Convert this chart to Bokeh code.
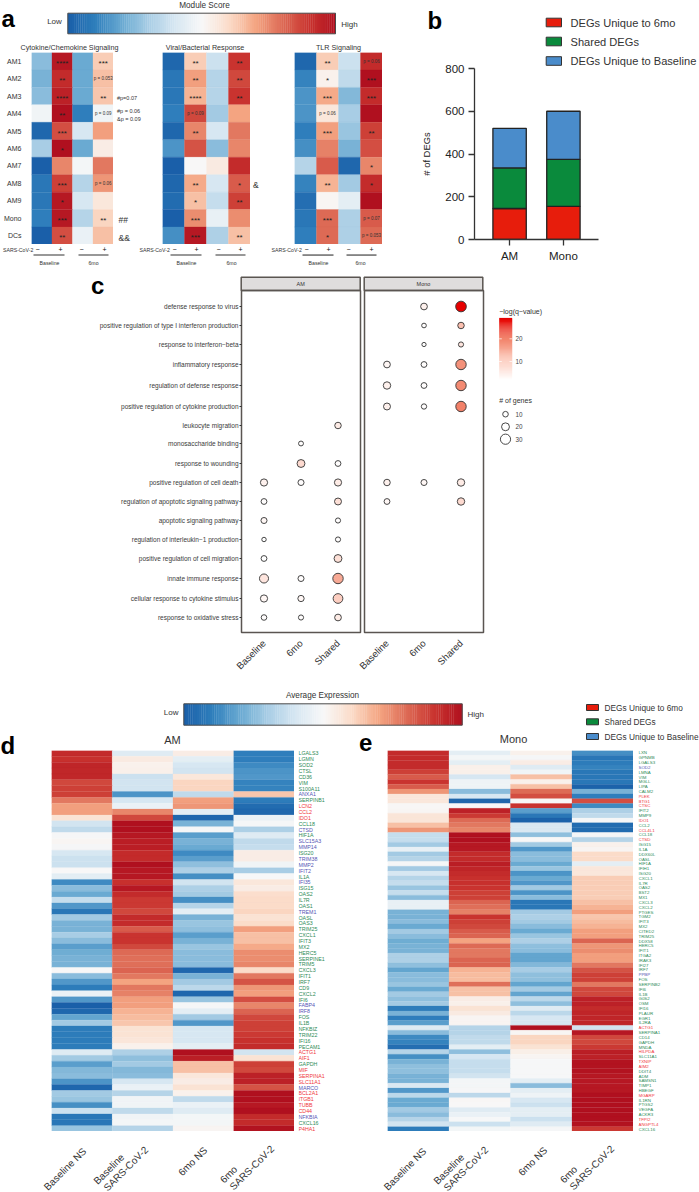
import math
from bokeh.plotting import figure
from bokeh.embed import file_html
from bokeh.resources import INLINE
from bokeh.core.properties import value
from bokeh.models import (ColumnDataSource, FactorRange, Range1d, LinearColorMapper,
                          FixedTicker)
from bokeh.transform import transform

FONT = "Liberation Sans"

# ---------- panel a data ----------
MODULES = ["AM1","AM2","AM3","AM4","AM5","AM6","AM7","AM8","AM9","Mono","DCs"]
STIM = ["B-","B+","6-","6+"]
A1_TITLE, A2_TITLE, A3_TITLE = "Cytokine/Chemokine Signaling", "Viral/Bacterial Response", "TLR Signaling"
A1 = [[-.5,.95,-.6,.25],[-.55,.85,-.6,.3],[-.5,.9,-.6,.28],[-.05,1,-.8,-.05],[-.95,.7,-.2,.42],[-.4,1,-.6,.08],
      [-1,.5,-.03,.55],[-.85,.75,-.35,.45],[-.85,.95,-.2,.12],[-.8,.95,-.35,.22],[-1,.7,-.08,.3]]
A1_TXT = [["","****","","***"],["","**","","p = 0.053"],["","****","","**"],["","**","","p = 0.09"],["","***","",""],
          ["","*","",""],["","","",""],["","***","","p = 0.06"],["","*","",""],["","***","","**"],["","**","",""]]
A2 = [[-.95,.25,-.25,.8],[-.85,.42,-.35,.72],[-.85,.35,-.35,.8],[-.8,.72,-.42,.4],[-.95,.5,-.2,.55],[-.7,.68,-.5,.5],
      [-1,0,.1,.85],[-.95,.38,-.2,.65],[-.92,.3,-.28,.75],[-1,.48,-.1,.48],[-.72,.95,-.38,.3]]
A2_TXT = [["","**","","**"],["","**","","**"],["","****","","**"],["","p = 0.09","",""],["","**","",""],
          ["","","",""],["","","",""],["","**","","*"],["","*","","**"],["","***","",""],["","***","","**"]]
A3 = [[-.95,.25,-.25,.85],[-.78,.05,-.3,1],[-.7,.38,-.52,.85],[-.7,.12,-.4,1],[-.8,.42,-.45,.75],[-.72,.52,-.55,.7],
      [-.35,.65,-.95,.5],[-.78,.35,-.42,.85],[-.9,.02,-.12,1],[-.85,.6,-.38,.65],[-.8,.6,-.38,.6]]
A3_TXT = [["","**","","p = 0.06"],["","*","","***"],["","***","","***"],["","p = 0.06","",""],["","***","","**"],
          ["","","",""],["","","","*"],["","**","","*"],["","","",""],["","***","","p = 0.07"],["","*","","p = 0.053"]]

# ---------- panel b data ----------
B_CATS = ["AM","Mono"]
B_SERIES = ["DEGs Unique to 6mo","Shared DEGs","DEGs Unique to Baseline"]
B_6MO = [145,155]
B_SHARED = [190,220]
B_BASE = [185,225]
B_COLORS = ["#e71d0c","#0a8a3c","#4a8ccb"]

# ---------- panel c data ----------
GO_TERMS = ["defense response to virus","positive regulation of type I interferon production","response to interferon\u2212beta",
 "inflammatory response","regulation of defense response","positive regulation of cytokine production","leukocyte migration",
 "monosaccharide binding","response to wounding","positive regulation of cell death","regulation of apoptotic signaling pathway",
 "apoptotic signaling pathway","regulation of interleukin\u22121 production","positive regulation of cell migration",
 "innate immune response","cellular response to cytokine stimulus","response to oxidative stress"]
GO_COLS = ["Baseline","6mo","Shared"]
# term index, column, genes, -log(q)
GO_AM = [(6,"Shared",14,5),(7,"6mo",7,2),(8,"6mo",20,8),(8,"Shared",11,2),(9,"Baseline",17,4),(9,"6mo",12,2),(9,"Shared",17,5),
 (10,"Baseline",11,2),(10,"Shared",16,7),(11,"Baseline",12,3),(11,"Shared",8,2),(12,"Baseline",5,1.6),(12,"Shared",8,2),
 (13,"Baseline",11,1.6),(13,"Shared",20,7),(14,"Baseline",25,6),(14,"6mo",12,2),(14,"Shared",31,15),(15,"Baseline",17,3),
 (15,"6mo",13,3),(15,"Shared",28,10),(16,"Baseline",10,2),(16,"6mo",8,2),(16,"Shared",15,5)]
GO_MONO = [(0,"6mo",15,4),(0,"Shared",32,29),(1,"6mo",6,2),(1,"Shared",14,12),(2,"6mo",4,1.6),(2,"Shared",8,6),
 (3,"Baseline",15,3),(3,"6mo",11,2),(3,"Shared",31,18),(4,"Baseline",18,4),(4,"6mo",11,2),(4,"Shared",31,19),
 (5,"Baseline",16,4),(5,"6mo",9,2),(5,"Shared",31,20),(9,"Baseline",14,4),(9,"6mo",12,3),(9,"Shared",18,5),
 (10,"Baseline",11,3),(10,"Shared",18,8)]
GENE_LEGEND = [10,20,30]
Q_TICKS = [10,20]

# ---------- panels d, e data ----------
HEAT_COLS = ["Baseline NS","Baseline SARS-CoV-2","6mo NS","6mo SARS-CoV-2"]
D_GENES = ["LGALS3","LGMN","SOD2","CTSL","CD36","VIM","S100A11","ANXA1","SERPINB1","LCN2","CCL2","IDO1","CCL18","CTSD","HIF1A",
 "SLC15A3","MMP14","ISG20","TRIM38","MMP2","IFIT2","IL1A","IFI35","ISG15","OAS2","IL7R","OAS1","TREM1","OASL","OAS3","TRIM25",
 "CXCL1","IFIT3","MX2","HERC5","SERPINE1","TRIM5","CXCL3","IFIT1","IRF7","CD9","CXCL2","IFI6","FABP4","IRF8","FOS","IL1B",
 "NFKBIZ","TRIM22","IFI16","PECAM1","ACTG1","AIF1","GAPDH","MIF","SERPINA1","SLC11A1","MARCO","BCL2A1","ITGB1","TUBB","CD44",
 "NFKBIA","CXCL16","P4HA1"]
D_BLUE = {"ANXA1","CTSD","SLC15A3","MMP14","TRIM38","MMP2","IFIT2","IFI35","TREM1","FABP4","IRF8","MARCO","NFKBIA"}
D_RED = {"LCN2","CCL2","IDO1","ACTG1","AIF1","MIF","SERPINA1","SLC11A1","BCL2A1","ITGB1","TUBB","CD44","P4HA1"}
D_VALUES = [[.85,-.15,.08,-.8],[.82,.1,-.12,-.8],[.88,.05,-.2,-.75],[.87,.06,-.22,-.7],[.87,-.25,.12,-.68],[.72,-.22,.22,-.78],
 [.75,-.22,.22,-.78],[.75,-.7,-.3,.28],[.55,-.2,.42,-.82],[.42,-.08,.45,-.92],[.42,.5,-.12,-.95],[.15,.72,-.95,-.08],
 [-.22,1,-.55,-.02],[-.3,1,-.02,-.38],[-.02,.95,-.65,-.15],[.02,.92,-.55,-.3],[-.02,.92,-.6,-.28],[-.2,.85,-.75,.08],
 [-.25,.85,-.65,.08],[-.25,1,-.48,-.05],[0,.95,-.38,-.4],[-.12,.95,-.72,-.01],[-.75,.82,-.22,.12],[-.5,.95,-.38,.08],
 [-.6,.85,-.42,.18],[-.28,.78,-.72,.2],[-.68,.78,-.35,.2],[-.85,.72,-.12,.22],[-.42,.85,-.55,.15],[-.55,.85,-.45,.2],
 [-.55,.65,-.48,.42],[-.4,.8,-.65,.3],[-.5,.8,-.55,.3],[-.65,.72,-.45,.38],[-.58,.6,-.5,.48],[-.55,.58,-.5,.48],
 [-.55,.58,-.5,.5],[0,.62,-.95,.2],[-.5,.55,-.55,.55],[-.68,.4,-.42,.68],[-.82,.55,-.32,.45],[-.08,.52,-.95,.42],
 [-.68,.42,-.45,.7],[-1,.42,-.02,.5],[-.95,.35,-.12,.62],[-.62,.32,-.42,.72],[-.42,.28,-.68,.75],[-.82,.15,-.2,.75],
 [-.82,.15,-.2,.78],[-.82,.13,-.2,.82],[-.82,.05,-.12,.85],[-.15,-.38,1,-.22],[-.42,-.48,.92,.15],[-.65,-.42,.3,.75],
 [-.52,-.52,.3,.72],[-.5,-.5,.12,.9],[-.7,-.2,.08,.9],[-.95,-.08,.15,.68],[-.42,-.35,.05,1],[-.45,-.05,-.3,1],
 [-.72,-.05,-.08,.95],[-.25,-.3,-.15,1],[-.85,-.05,-.03,.85],[-.85,-.03,-.03,.85],[-.45,-.35,.03,.98]]
E_GENES = ["LXN","GPNMB","LGALS3","SOD2","LMNA","VIM","MGLL","LIPA","CALM2","PLEK","BTG1","CTSC","IFIT2","MMP9","IDO1","CCL2",
 "CCL4L1","CCL18","CTSD","ISG15","IL1A","DDX60L","OASL","HIF1A","IFIH1","ISG20","CXCL1","IL7R","OAS2","BST2","MX1","CXCL3",
 "CXCL2","PTGES","TGM2","IFIT3","MX2","CITED2","TRIM25","DDX58","HERC5","IFIT1","ITGA2","IRAK3","IFI27","IRF7","PPBP","FOS",
 "SERPINB2","IFI6","IL1B","G0S2","OSM","IFI16","PLAUR","EGR1","IL2RA","ACTG1","SERPINA1","CD14","GAPDH","MNDA","HILPDA",
 "SLC11A1","TXNIP","AIM2","DDIT4","ADM","SAMSN1","TIMP1","HBEGF","MGARP","IL1RN","PTGS2","VEGFA","ACKR3","TFPI2","ANGPTL4","CXCL16"]
E_BLUE = {"SOD2","PPBP"}
E_RED = {"PLEK","BTG1","CTSC","IDO1","CCL4L1","CTSD","ACTG1","HILPDA","TXNIP","AIM2","MGARP","TFPI2","ANGPTL4"}
E_VALUES = [[.85,-.12,.05,-.72],[.85,-.03,-.02,-.85],[.85,-.12,.08,-.82],[.85,.06,-.15,-.78],[.75,.06,-.05,-.85],[.65,-.2,.3,-.85],
 [.8,-.06,.06,-.85],[.65,-.06,.3,-.98],[.45,-.5,.6,-.55],[.12,-.2,.7,-.8],[.12,-.95,0,.7],[.01,-.01,.8,-.75],[.02,.9,-.65,-.38],
 [.14,.78,-.85,-.3],[.14,.6,-.98,-.02],[.3,.55,-.18,-.92],[.45,.5,-.18,-.92],[-.28,1,-.48,-.02],[-.28,1,0,-.35],[-.42,.95,-.42,.05],
 [-.1,.95,-.68,.03],[-.42,.85,-.5,.2],[-.35,.85,-.5,.2],[-.02,.92,-.6,-.12],[-.42,.88,-.45,.12],[-.2,.85,-.7,.12],[-.35,.82,-.6,.25],
 [-.28,.82,-.68,.25],[-.45,.8,-.42,.25],[-.28,.75,-.7,.25],[-.5,.75,-.5,.25],[-.1,.62,-.85,.3],[-.1,.58,-.85,.35],[-.55,.52,-.42,.42],
 [-.55,.8,-.38,.28],[-.5,.75,-.42,.32],[-.6,.72,-.5,.35],[-.42,.65,-.6,.42],[-.5,.62,-.45,.42],[-.58,.4,-.38,.62],[-.55,.6,-.48,.45],
 [-.55,.55,-.5,.48],[-.38,.55,-.62,.42],[-.38,.62,-.62,.42],[-.48,.62,-.52,.55],[-.62,.35,-.4,.68],[-.5,.32,-.48,.75],[-.5,.32,-.48,.75],
 [-.45,.58,-.62,.55],[-.6,.3,-.42,.72],[-.42,.3,-.62,.72],[-.48,.08,-.32,.9],[-.42,.06,-.48,.9],[-.82,.15,-.15,.85],[-.55,.1,-.32,.88],
 [-.8,.03,-.2,.88],[-.65,.03,-.2,.88],[-.15,-.35,1,-.22],[-.5,-.35,.02,.95],[-.75,-.3,.22,.72],[-.78,-.3,.22,.72],[-.9,-.12,.15,.78],
 [-.35,-.48,.07,.92],[-.72,-.2,.03,.9],[-.55,-.28,-.01,.98],[-.48,-.28,-.01,.98],[-.48,-.28,-.01,.98],[-.55,-.22,-.01,.95],
 [-.55,-.03,-.12,.95],[-.18,-.03,-.5,.95],[-.68,-.02,-.12,.95],[-.32,-.32,-.06,1],[-.6,.01,-.2,1],[-.6,0,-.25,1],[-.42,-.15,-.12,1],
 [-.5,-.08,-.12,1],[-.35,-.01,-.25,1],[-.22,-.25,-.15,.98],[-.82,-.03,-.02,.78]]

# ---------- colours ----------
def hex2rgb(h): return [int(h[i:i+2],16) for i in (1,3,5)]
def ramp(stops, n=256):
    out=[]
    for i in range(n):
        t=i/(n-1)*(len(stops)-1); k=min(int(t),len(stops)-2); f=t-k
        a,b=hex2rgb(stops[k]),hex2rgb(stops[k+1])
        out.append("#%02x%02x%02x"%tuple(round(a[j]+(b[j]-a[j])*f) for j in range(3)))
    return out
HEAT = ramp(["#1a5fa9","#2f7fbc","#6aaad2","#a9cee5","#d7e7f2","#f8f8f8","#fbdcc9","#f4a582","#dd6a55","#c9342f","#b0101f"])
QPAL = ramp(["#ffffff","#fccabb","#f2836a","#e60000"])
heat_map = LinearColorMapper(palette=HEAT, low=-1, high=1)
q_map = LinearColorMapper(palette=QPAL, low=1.6, high=29)
LABEL_GREEN, LABEL_BLUE, LABEL_RED = "#2e8b57", "#5555b5", "#f0383c"

figs = []
def base_fig(left, top, w, h, **kw):
    opts = dict(width=w, height=h, output_backend="svg", toolbar_location=None, tools="",
                min_border=0, x_axis_location=None, y_axis_location=None,
                background_fill_alpha=0, border_fill_alpha=0, outline_line_color=None,
                styles={"position":"absolute","left":f"{left}px","top":f"{top}px"})
    opts.update(kw)
    p = figure(**opts)
    p.grid.visible = False
    figs.append(p)
    return p

# ---------- canvas with page-level labels ----------
canvas = base_fig(0, 0, 699, 1192, x_range=Range1d(0,699), y_range=Range1d(1192,0))
def txt(x, y, s, size, align="left", base="middle", color="#333333", angle=0, style="normal"):
    canvas.text([x],[y],[s], text_font=value(FONT), text_font_size=f"{size}px", text_align=align,
                text_baseline=base, text_color=color, angle=angle, text_font_style=style)
def cbar(x0,x1,y0,y1,pal):
    n=128
    canvas.quad(left=[x0+(x1-x0)*i/n for i in range(n)], right=[x0+(x1-x0)*(i+1)/n+.3 for i in range(n)],
                top=[y0]*n, bottom=[y1]*n, fill_color=[pal[i*2] for i in range(n)], line_color=None)
    canvas.quad(left=[x0],right=[x1],top=[y0],bottom=[y1],fill_color=None,line_color="#4a4a4a",line_width=1)

for s,x,y in [("a",1,18.3),("b",427,20),("c",90.5,285),("d",0,745),("e",358.5,742)]:
    txt(x,y,s,24,base="alphabetic",color="#000000",style="bold")

# colour bar a
cbar(67.3,335,12.7,33.3,HEAT)
txt(204,5,"Module Score",8.2,"center")
txt(54,21,"Low",8,"center"); txt(349,24,"High",8,"center")
for t,x in [(A1_TITLE,69),(A2_TITLE,204.5),(A3_TITLE,338)]:
    txt(x,46.5,t,7.2,"center")
for s,y,sz in [("#p=0.07",97,5.5),("#p = 0.06",110.5,5.5),("&p = 0.09",118,5.5)]:
    txt(116.5,y,s,sz)
txt(118,219,"##",8.5); txt(118,237,"&&",8.5); txt(252.5,184,"&",8.5)
for sx,xs,un,bl,sm in [(2.5,(37,60,81,104),((33,64),(78,108)),49,93),
                       (139,(174,196,218,240),((170,201),(215,245)),186,231),
                       (271,(306,328,348,371),((302,333),(346,376)),318,360)]:
    txt(sx,249,"SARS-CoV-2",5.2)
    for i,x in enumerate(xs):
        txt(x,248.5,"\u2212" if i%2==0 else "+",7,"center",color="#111111")
    for a,b in un:
        canvas.segment([a],[254.5],[b],[254.5],line_color="#333333",line_width=1.2)
    txt(bl,262,"Baseline",5.2,"center"); txt(sm,262,"6mo",5.2,"center")

# legends b and d/e
for i,(s,c) in enumerate(zip(B_SERIES,B_COLORS)):
    y=[22,41,60.5][i]
    canvas.quad(left=[545.7],right=[561],top=[y-4.3],bottom=[y+4.3],fill_color=c,line_color="#333333",line_width=1)
    txt(570,y,s,11.1,color="#333333")
    y2=[707,721.3,736][i]
    canvas.quad(left=[586],right=[598],top=[y2-3],bottom=[y2+3],fill_color=c,line_color="#333333",line_width=1)
    txt(604,y2,s,8.3)

# strips of panel c
for a,b,s in [(240.7,359.7,"AM"),(363.7,482.3,"Mono")]:
    canvas.quad(left=[a],right=[b],top=[276.7],bottom=[290],fill_color="#dfdddd",line_color="#5a5551",line_width=1.5)
    txt((a+b)/2,283.3,s,5.5,"center",color="#333333")

# c legends
q_px = lambda q: 361 - (q-10)*2.27
n=60
canvas.quad(left=[498.7]*n,right=[511.7]*n,top=[380-(i+1)*62.3/n-.3 for i in range(n)],bottom=[380-i*62.3/n for i in range(n)],
            fill_color=[QPAL[int(i*255/(n-1))] for i in range(n)],line_color=None)
for q in Q_TICKS:
    canvas.segment([498.7,509],[q_px(q)]*2,[501.3,511.7],[q_px(q)]*2,line_color="#ffffff",line_width=.7)
    txt(515,q_px(q),str(q),6.3,color="#444444")
txt(498.7,310.7,"\u2212log(q\u2212value)",7,color="#333333")
txt(498.7,400,"# of genes",7,color="#333333")
gene_d = lambda g: 3.6+.23*g
for g,y in zip(GENE_LEGEND,(413.7,426.3,438.7)):
    canvas.scatter([505],[y],size=gene_d(g)-0.3,fill_color="#ffffff",line_color="#333333",line_width=.9)
    txt(515,y,str(g),6.3,color="#444444")

# colour bar d/e
cbar(183.3,461.7,703.3,724.7,HEAT)
txt(322,695,"Average Expression",8.2,"center")
txt(178,712,"Low",8,"right"); txt(467,714,"High",8)
txt(172,739.5,"AM",11,"center"); txt(513,738,"Mono",11,"center")

# rotated column labels of d and e
a45=math.pi/4
for dx in (0,340):
    txt(84+dx,1149,"Baseline NS",10,"right",angle=a45)
    txt(122+dx,1155,"Baseline",10,"right",angle=a45)
    txt(146+dx,1147.5,"SARS-CoV-2",10,"right",angle=a45)
    txt(205+dx,1148,"6mo NS",10,"right",angle=a45)
    txt(235+dx,1167,"6mo",10,"right",angle=a45)
    txt(272+dx,1146.5,"SARS-CoV-2",10,"right",angle=a45)

# ---------- panel a heatmaps ----------
def module_heat(left, top, w, h, vals, labels, axis=False, ml=0):
    yr = FactorRange(factors=list(reversed(MODULES)))
    xr = FactorRange(factors=STIM)
    kw = dict(y_axis_location="left", min_border_left=ml) if axis else {}
    p = base_fig(left, top, w+ml, h, x_range=xr, y_range=yr, **kw)
    xs,ys,vs,ts=[],[],[],[]
    for m,row,lab in zip(MODULES,vals,labels):
        for c,v,t in zip(STIM,row,lab):
            xs.append(c);ys.append(m);vs.append(v);ts.append(t)
    src=ColumnDataSource(dict(x=xs,y=ys,v=vs))
    p.rect("x","y",1,1,source=src,fill_color=transform("v",heat_map),line_color=transform("v",heat_map),line_width=.3)
    star=[(x,y,t) for x,y,t in zip(xs,ys,ts) if t.startswith("*")]
    pv=[(x,y,t) for x,y,t in zip(xs,ys,ts) if t.startswith("p")]
    if star:
        p.text([a[0] for a in star],[a[1] for a in star],[a[2] for a in star],text_font=value(FONT),text_font_size="8px",
               text_align="center",text_baseline="middle",y_offset=2,text_color="#222222")
    if pv:
        p.text([a[0] for a in pv],[a[1] for a in pv],[a[2] for a in pv],text_font=value(FONT),text_font_size="4.5px",
               text_align="center",text_baseline="middle",text_color="#333333")
    if axis:
        ax=p.yaxis[0]
        ax.axis_line_color=None; ax.major_tick_line_color=None; ax.minor_tick_line_color=None
        ax.major_label_text_font=FONT; ax.major_label_text_font_size="7px"; ax.major_label_text_color="#333333"
        ax.major_label_standoff=4
    return p
module_heat(0,52,87,192,A1,A1_TXT,axis=True,ml=26)
module_heat(162,52,88,192,A2,A2_TXT)
module_heat(294,52,88,192,A3,A3_TXT)

# ---------- panel b ----------
b=base_fig(404,60,70+124+2,8+171+30,x_range=FactorRange(factors=B_CATS,range_padding=.152),y_range=Range1d(0,800),
           x_axis_location="below",y_axis_location="left",min_border_left=70,min_border_top=8,min_border_bottom=30,min_border_right=2)
b.vbar_stack(["s","m","t"],x="cat",width=.62,source=ColumnDataSource(dict(cat=B_CATS,s=B_6MO,m=B_SHARED,t=B_BASE)),
             fill_color=B_COLORS,line_color="#222222",line_width=1.3)
b.yaxis[0].ticker=FixedTicker(ticks=[0,200,400,600,800])
b.yaxis[0].axis_label="# of DEGs"; b.yaxis[0].axis_label_text_font=FONT; b.yaxis[0].axis_label_text_font_size="9.4px"
b.yaxis[0].axis_label_text_font_style="normal"; b.yaxis[0].axis_label_text_color="#222222"; b.yaxis[0].axis_label_standoff=10
for ax in (b.xaxis[0],b.yaxis[0]):
    ax.major_label_text_font=FONT; ax.major_label_text_font_size="11.5px"; ax.major_label_text_color="#222222"
    ax.axis_line_color="#333333"; ax.axis_line_width=1.3; ax.major_tick_line_color="#333333"; ax.major_tick_line_width=1.3
    ax.major_tick_in=0; ax.major_tick_out=6; ax.minor_tick_line_color=None; ax.major_label_standoff=4

# ---------- panel c ----------
TERM_PX=[306,325,344,364,385,406,425,443,463,482,501,520,539,558,578,598,617]
def go_panel(left,ml,data,axis):
    p=base_fig(left,270,ml+119+2,20+342+46,x_range=FactorRange(factors=GO_COLS,range_padding=.072),y_range=Range1d(632,290),
               x_axis_location="below",y_axis_location="left" if axis else None,min_border_left=ml,min_border_top=20,
               min_border_bottom=46,min_border_right=2,outline_line_color="#5a5551",outline_line_width=1.5)
    src=ColumnDataSource(dict(x=[d[1] for d in data],y=[TERM_PX[d[0]] for d in data],
                              s=[gene_d(d[2])-.3 for d in data],q=[d[3] for d in data]))
    p.scatter("x","y",size="s",source=src,fill_color=transform("q",q_map),line_color="#333333",line_width=.9)
    xa=p.xaxis[0]
    xa.axis_line_color=None; xa.major_tick_line_color=None; xa.major_label_orientation=math.pi/4
    xa.major_label_text_font=FONT; xa.major_label_text_font_size="9.6px"; xa.major_label_text_color="#333333"; xa.major_label_standoff=3
    if axis:
        ya=p.yaxis[0]
        ya.ticker=FixedTicker(ticks=TERM_PX)
        ya.major_label_overrides={t:g for t,g in zip(TERM_PX,GO_TERMS)}
        ya.axis_line_color=None; ya.major_tick_in=0; ya.major_tick_out=2; ya.major_tick_line_color="#333333"; ya.minor_tick_line_color=None
        ya.major_label_text_font=FONT; ya.major_label_text_font_size="6.5px"; ya.major_label_text_color="#3a3a3a"; ya.major_label_standoff=1
    return p
go_panel(0,241,GO_AM,True)
go_panel(320,44,GO_MONO,False)

# ---------- panels d, e ----------
def gene_heat(left,top,w,h,genes,vals,blue,red,lab_size,gap):
    yr=FactorRange(factors=list(reversed(genes)))
    p=base_fig(left,top,w,h,x_range=FactorRange(factors=HEAT_COLS),y_range=yr)
    xs,ys,vs=[],[],[]
    for g,row in zip(genes,vals):
        for c,v in zip(HEAT_COLS,row):
            xs.append(c);ys.append(g);vs.append(v)
    p.rect("x","y",1,1,source=ColumnDataSource(dict(x=xs,y=ys,v=vs)),fill_color=transform("v",heat_map),
           line_color=transform("v",heat_map),line_width=.25)
    l=base_fig(left+w+gap,top,60,h,x_range=Range1d(0,60),y_range=yr)
    cols=[LABEL_BLUE if g in blue else LABEL_RED if g in red else LABEL_GREEN for g in genes]
    l.text([0]*len(genes),genes,genes,text_color=cols,text_font=value(FONT),text_font_size=f"{lab_size}px",
           text_align="left",text_baseline="middle")
gene_heat(51,750,243,381,D_GENES,D_VALUES,D_BLUE,D_RED,5.3,4)
gene_heat(387,750,246,381,E_GENES,E_VALUES,E_BLUE,E_RED,4.4,5)

p=figs
open("out.html","w").write(file_html(p,INLINE))
